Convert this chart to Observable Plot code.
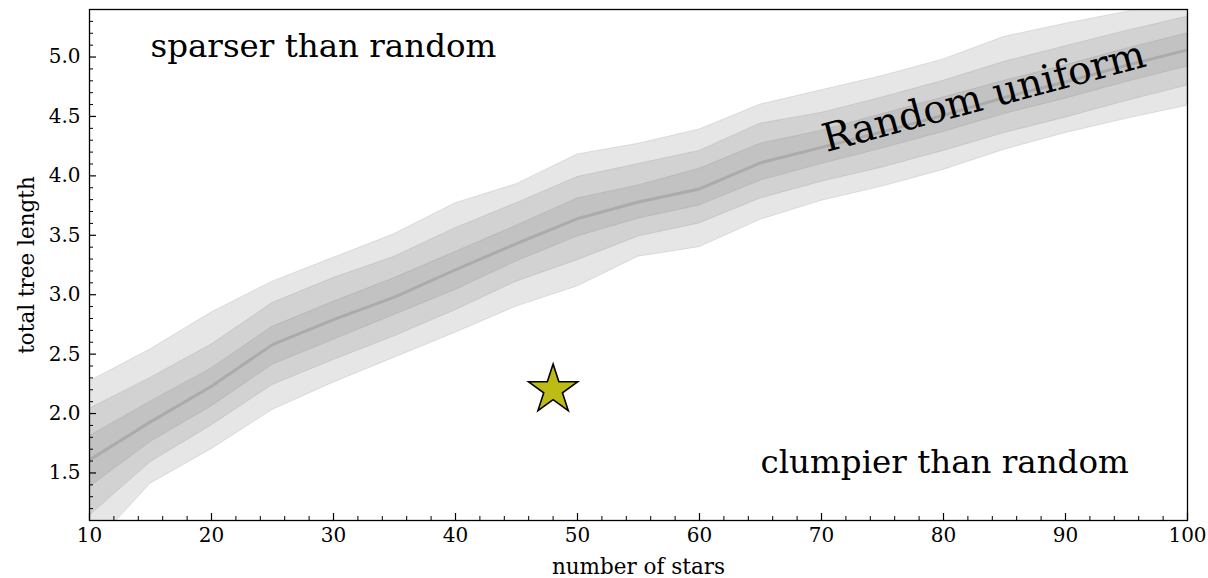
<!DOCTYPE html>
<html><head><meta charset="utf-8">
<script src="https://cdn.jsdelivr.net/npm/d3@7"></script>
<script src="https://cdn.jsdelivr.net/npm/@observablehq/plot@0.6"></script>
<style>
html,body{margin:0;padding:0;background:#fff;}
</style>
</head><body><div id="chart"></div>
<script>
// number of stars sampled
const nStars   = [10, 15, 20, 25, 30, 35, 40, 45, 50, 55, 60, 65, 70, 75, 80, 85, 90, 95, 100];
// median total tree length of random uniform samples
const median   = [1.61, 1.93, 2.23, 2.58, 2.79, 2.98, 3.21, 3.43, 3.64, 3.78, 3.89, 4.11, 4.24, 4.37, 4.51, 4.66, 4.79, 4.93, 5.06];
// 1-sigma envelope
const lo1      = [1.38, 1.76, 2.06, 2.41, 2.62, 2.83, 3.04, 3.28, 3.49, 3.64, 3.75, 3.96, 4.10, 4.23, 4.37, 4.52, 4.65, 4.79, 4.92];
const hi1      = [1.81, 2.10, 2.38, 2.73, 2.94, 3.14, 3.36, 3.58, 3.81, 3.92, 4.06, 4.27, 4.38, 4.52, 4.66, 4.80, 4.93, 5.07, 5.20];
// 2-sigma envelope
const lo2      = [1.14, 1.59, 1.90, 2.24, 2.45, 2.65, 2.87, 3.11, 3.29, 3.49, 3.60, 3.81, 3.95, 4.07, 4.21, 4.36, 4.49, 4.63, 4.76];
const hi2      = [2.04, 2.30, 2.58, 2.93, 3.14, 3.32, 3.56, 3.77, 3.99, 4.10, 4.21, 4.44, 4.53, 4.66, 4.80, 4.96, 5.09, 5.22, 5.34];
// 3-sigma envelope
const lo3      = [0.85, 1.41, 1.70, 2.03, 2.26, 2.47, 2.68, 2.90, 3.07, 3.32, 3.40, 3.63, 3.79, 3.91, 4.05, 4.22, 4.36, 4.48, 4.59];
const hi3      = [2.27, 2.54, 2.85, 3.11, 3.31, 3.51, 3.77, 3.93, 4.18, 4.27, 4.39, 4.60, 4.72, 4.84, 4.98, 5.17, 5.28, 5.38, 5.50];

// observed cluster
const observedStars = [48];
const observedLength = [2.2];

// annotations
const annoText = ["sparser than random", "clumpier than random"];
const annoX = [15, 65];
const annoY = [5.0, 1.5];
const bandLabel = ["Random uniform"];
const bandLabelX = [70.4];
const bandLabelY = [4.2];

// ticks
const xMajor = [10, 20, 30, 40, 50, 60, 70, 80, 90, 100];
const xMinor = [12,14,16,18,22,24,26,28,32,34,36,38,42,44,46,48,52,54,56,58,62,64,66,68,72,74,76,78,82,84,86,88,92,94,96,98];
const yMajor = [1.5, 2.0, 2.5, 3.0, 3.5, 4.0, 4.5, 5.0];
const yMinor = [1.1,1.2,1.3,1.4,1.6,1.7,1.8,1.9,2.1,2.2,2.3,2.4,2.6,2.7,2.8,2.9,3.1,3.2,3.3,3.4,3.6,3.7,3.8,3.9,4.1,4.2,4.3,4.4,4.6,4.7,4.8,4.9,5.1,5.2,5.3,5.4];

const rows = nStars.map((n, i) => ({n, med: median[i], lo1: lo1[i], hi1: hi1[i], lo2: lo2[i], hi2: hi2[i], lo3: lo3[i], hi3: hi3[i]}));
const obs = observedStars.map((n, i) => ({n, v: observedLength[i]}));
const anno = annoText.map((t, i) => ({t, x: annoX[i], y: annoY[i]}));
const bl = bandLabel.map((t, i) => ({t, x: bandLabelX[i], y: bandLabelY[i]}));

const serif = "'DejaVu Serif', serif";
const band = {fill: "#808080", fillOpacity: 0.2, stroke: "#808080", strokeOpacity: 0.2, strokeWidth: 1, clip: true};

const chart = Plot.plot({
  width: 1208, height: 578,
  marginLeft: 89, marginRight: 21, marginTop: 9, marginBottom: 58,
  style: {fontFamily: serif, fontSize: "20px", color: "#000", background: "#fff"},
  x: {domain: [10, 100], label: null},
  y: {domain: [1.1, 5.4], label: null},
  marks: [
    Plot.areaY(rows, {x: "n", y1: "lo3", y2: "hi3", ...band}),
    Plot.areaY(rows, {x: "n", y1: "lo2", y2: "hi2", ...band}),
    Plot.areaY(rows, {x: "n", y1: "lo1", y2: "hi1", ...band}),
    Plot.lineY(rows, {x: "n", y: "med", stroke: "#808080", strokeOpacity: 0.35, strokeWidth: 3, clip: true}),
    Plot.dot(obs, {x: "n", y: "v", symbol: "star", r: 15.4, fill: "#bcbc14", stroke: "#000", strokeWidth: 1.6}),
    Plot.text(anno, {x: "x", y: "y", text: "t", textAnchor: "start", lineAnchor: "bottom", fontSize: 32.5, fontFamily: serif, fill: "#000"}),
    Plot.text(bl, {x: "x", y: "y", text: "t", textAnchor: "start", lineAnchor: "bottom", rotate: -15, fontSize: 39, fontFamily: serif, fill: "#000"}),
    // tick marks (inward)
    Plot.axisX({ticks: xMajor, tickSize: -7, tickFormat: () => "", label: null, strokeWidth: 1.2}),
    Plot.axisX({ticks: xMinor, tickSize: -4, tickFormat: () => "", label: null}),
    Plot.axisY({ticks: yMajor, tickSize: -7, tickFormat: () => "", label: null, strokeWidth: 1.2}),
    Plot.axisY({ticks: yMinor, tickSize: -4, tickFormat: () => "", label: null}),
    // tick labels
    Plot.axisX({ticks: xMajor, tickSize: 0, tickPadding: 7, tickFormat: d => String(d), label: null, fontSize: 20, fontFamily: serif, fill: "#000"}),
    Plot.axisY({ticks: yMajor, tickSize: 0, tickPadding: 9, tickFormat: d => d.toFixed(1), label: null, fontSize: 20, fontFamily: serif, fill: "#000"}),
    // axis labels
    Plot.text(["number of stars"], {frameAnchor: "bottom", dy: 53, textAnchor: "middle", lineAnchor: "bottom", fontSize: 21.5, fontFamily: serif, fill: "#000"}),
    Plot.text(["total tree length"], {frameAnchor: "left", dx: -62, textAnchor: "middle", rotate: -90, lineAnchor: "middle", fontSize: 21.5, fontFamily: serif, fill: "#000"}),
    Plot.frame({stroke: "#000", strokeWidth: 1.3})
  ]
});
document.getElementById("chart").appendChild(chart);
</script>
</body></html>
